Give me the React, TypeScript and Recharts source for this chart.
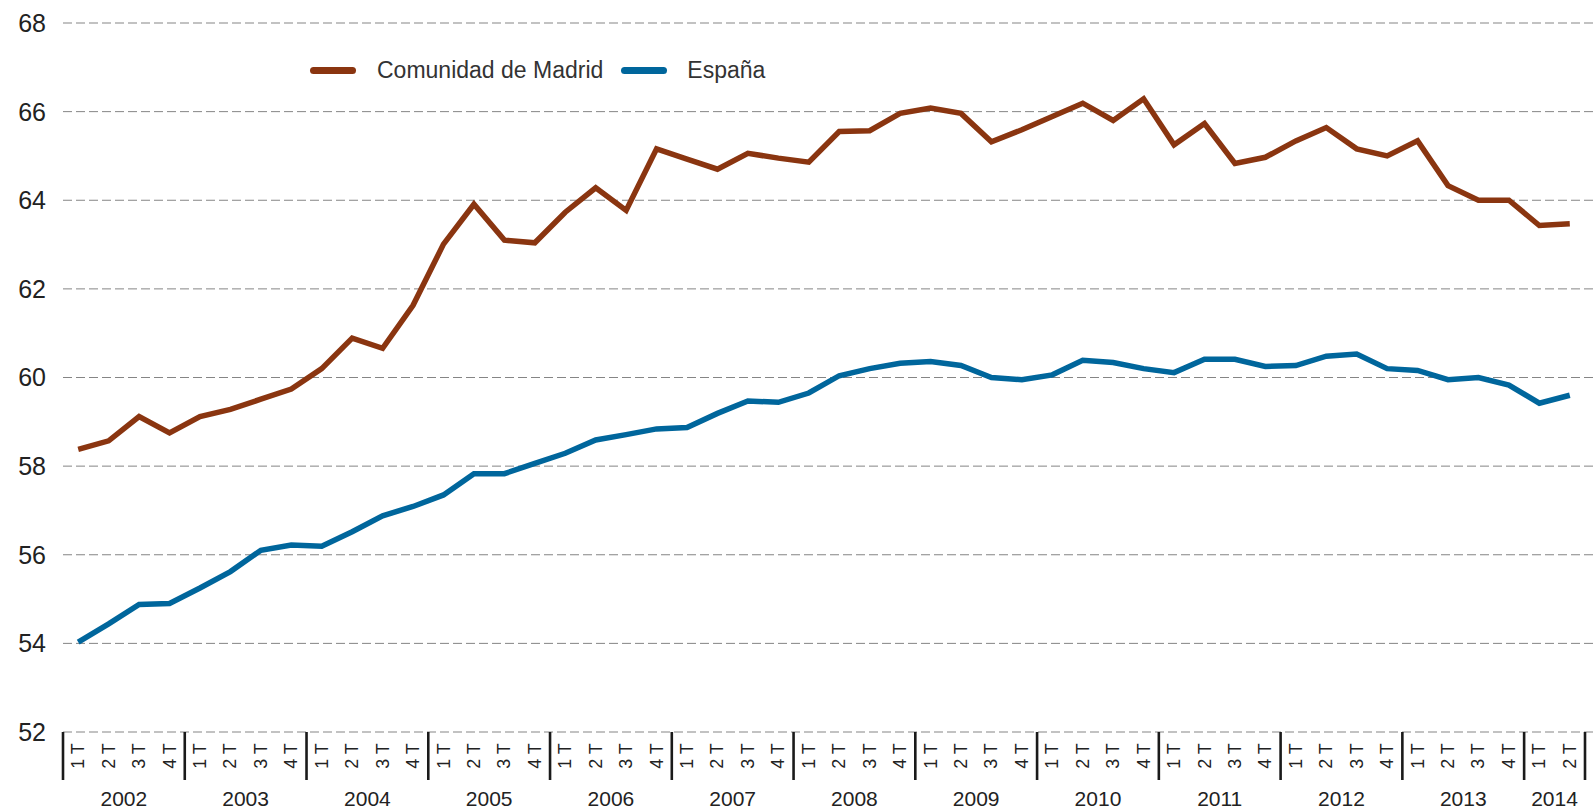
import React from 'react';
import { LineChart, Line, XAxis, YAxis, CartesianGrid } from 'recharts';

const years = ['2002', '2003', '2004', '2005', '2006', '2007', '2008', '2009', '2010', '2011', '2012', '2013', '2014'];
const quarterLabels = ['1 T', '2 T', '3 T', '4 T'];

// tasa de actividad, trimestral 2002 1T - 2014 2T
const madrid = [
  58.38, 58.57, 59.12, 58.75, 59.12, 59.28, 59.51, 59.74, 60.2, 60.89,
  60.66, 61.63, 63.01, 63.91, 63.1, 63.04, 63.73, 64.28, 63.77, 65.16,
  64.93, 64.7, 65.06, 64.95, 64.86, 65.55, 65.57, 65.96, 66.08, 65.96,
  65.32, 65.59, 65.89, 66.19, 65.8, 66.29, 65.25, 65.73, 64.83, 64.97,
  65.34, 65.64, 65.16, 65.0, 65.34, 64.33, 64.0, 64.0, 63.43, 63.47,
];
const espana = [
  54.03, 54.44, 54.88, 54.9, 55.25, 55.62, 56.1, 56.22, 56.19, 56.52,
  56.88, 57.09, 57.35, 57.83, 57.83, 58.06, 58.29, 58.59, 58.71, 58.84,
  58.87, 59.19, 59.47, 59.44, 59.65, 60.04, 60.2, 60.32, 60.36, 60.27,
  60.0, 59.95, 60.06, 60.39, 60.34, 60.2, 60.11, 60.41, 60.41, 60.25,
  60.27, 60.48, 60.53, 60.2, 60.16, 59.95, 60.0, 59.83, 59.42, 59.6,
];
const yTicks = [52, 54, 56, 58, 60, 62, 64, 66, 68];

const MADRID_COLOR = '#8a3510';
const ESPANA_COLOR = '#00669c';

const data = madrid.map((m, i) => ({ idx: i, madrid: m, espana: espana[i] }));
const n = data.length;

// quarter ticks at every index, separator ticks at year boundaries
const boundaries: number[] = [];
for (let i = 0; i < n; i += 4) boundaries.push(i - 0.5);
boundaries.push(n - 0.5);
const quarterTicks = [...data.map(d => d.idx), ...boundaries].sort((a, b) => a - b);

const yearTicks = years.map((_, k) => {
  const start = k * 4;
  const end = Math.min(start + 3, n - 1);
  return (start + end) / 2;
});

const QuarterTick = (props: any) => {
  const { x, y, payload } = props;
  const v = payload.value;
  if (!Number.isInteger(v)) {
    return <line x1={x} x2={x} y1={y} y2={y + 48} stroke="#1a1a1a" strokeWidth={2.6} />;
  }
  return (
    <text
      transform={`translate(${x},${y + 24}) rotate(-90)`}
      textAnchor="middle"
      dominantBaseline="central"
      fontSize={18}
      fill="#222"
    >
      {quarterLabels[v % 4]}
    </text>
  );
};

const YearTick = (props: any) => {
  const { x, y, payload } = props;
  const k = yearTicks.indexOf(payload.value);
  return (
    <text x={x} y={y + 16} textAnchor="middle" dominantBaseline="central" fontSize={21} fill="#222">
      {years[k]}
    </text>
  );
};

const LegendContent = () => (
  <div style={{ display: 'flex', alignItems: 'center', fontSize: 23, color: '#333', fontFamily: 'Liberation Sans' }}>
    <span style={{ width: 46, height: 7, borderRadius: 4, background: MADRID_COLOR, marginRight: 21 }} />
    <span style={{ marginRight: 18 }}>Comunidad de Madrid</span>
    <span style={{ width: 46, height: 7, borderRadius: 4, background: ESPANA_COLOR, marginRight: 20 }} />
    <span>España</span>
  </div>
);

export default function App() {
  return (
    <div style={{ position: 'absolute', left: 0, top: 0, fontFamily: 'Liberation Sans' }}>
      <div style={{ position: 'absolute', left: 310, top: 57, zIndex: 2 }}>
        <LegendContent />
      </div>
      <LineChart width={1593} height={809} data={data} margin={{ top: 23, right: 0, left: 0, bottom: 0 }}>
        <CartesianGrid xAxisId="q" vertical={false} stroke="#858585" strokeDasharray="9 4" />
        <XAxis
          xAxisId="q"
          dataKey="idx"
          type="number"
          domain={[-0.5, n - 0.5]}
          ticks={quarterTicks}
          interval={0}
          height={50}
          padding={{ left: 0, right: 8 }}
          axisLine={false}
          tickLine={false}
          tickSize={0}
          tickMargin={0}
          tick={<QuarterTick />}
        />
        <XAxis
          xAxisId="yr"
          dataKey="idx"
          type="number"
          domain={[-0.5, n - 0.5]}
          ticks={yearTicks}
          interval={0}
          height={27}
          padding={{ left: 0, right: 8 }}
          axisLine={false}
          tickLine={false}
          tickSize={0}
          tickMargin={0}
          tick={<YearTick />}
        />
        <YAxis
          domain={[52, 68]}
          ticks={yTicks}
          width={63}
          axisLine={false}
          tickLine={false}
          tickSize={0}
          tickMargin={17}
          tick={{ fontSize: 25, fill: '#222' }}
        />
        <Line
          xAxisId="q"
          dataKey="madrid"
          name="Comunidad de Madrid"
          stroke={MADRID_COLOR}
          strokeWidth={5.5}
          dot={false}
          isAnimationActive={false}
        />
        <Line
          xAxisId="q"
          dataKey="espana"
          name="España"
          stroke={ESPANA_COLOR}
          strokeWidth={5.5}
          dot={false}
          isAnimationActive={false}
        />
      </LineChart>
    </div>
  );
}
